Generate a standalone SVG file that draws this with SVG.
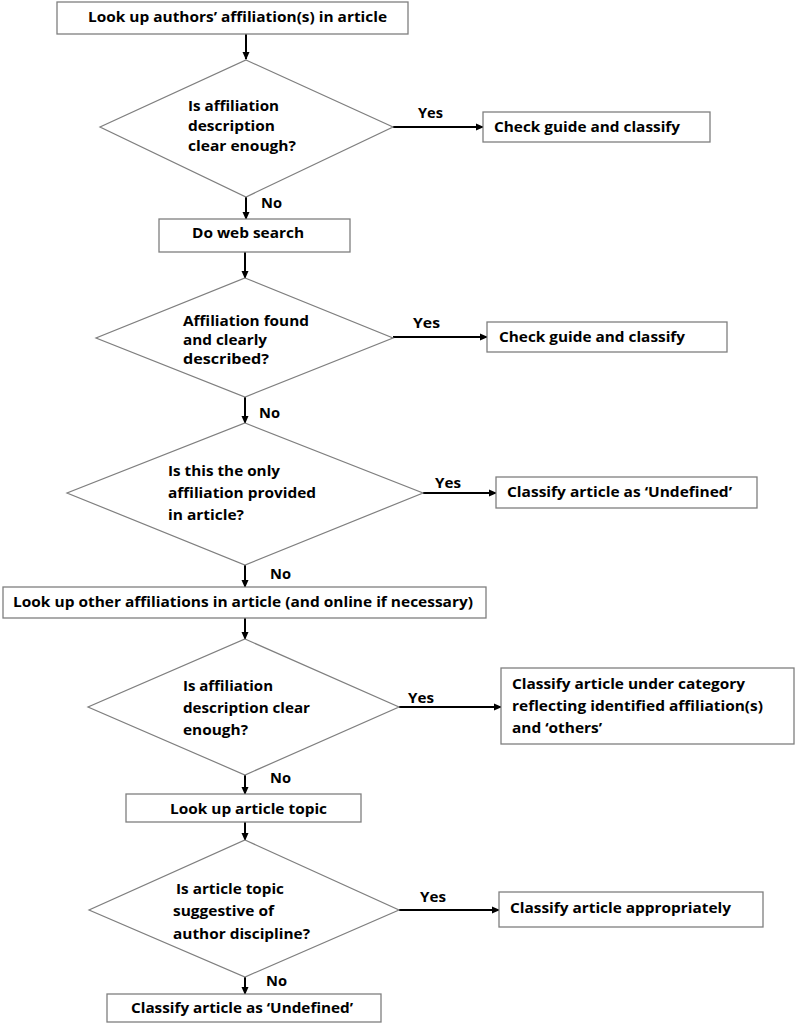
<svg xmlns="http://www.w3.org/2000/svg" width="796" height="1024" viewBox="0 0 796 1024">
<style>
.box{fill:#fff;stroke:#7f7f7f;stroke-width:1.3}
.dia{fill:#fff;stroke:#7f7f7f;stroke-width:1.2}
.t{font-family:"Open Sans","Liberation Sans",sans-serif;font-weight:bold;font-size:15px;fill:#000}
.c{stroke:#000;stroke-width:2;fill:none;marker-end:url(#ah)}
</style>
<defs>
<marker id="ah" markerWidth="8" markerHeight="8" refX="7" refY="4" orient="auto" markerUnits="userSpaceOnUse">
<path d="M0,0.5 L8,4 L0,7.5 Z" fill="#000"/>
</marker>
</defs>
<rect width="796" height="1024" fill="#fff"/>
<g id="connectors">
<line class="c" x1="246" y1="34" x2="246" y2="59"/>
<line class="c" x1="393" y1="127" x2="483" y2="127"/>
<line class="c" x1="246" y1="197" x2="246" y2="219"/>
<line class="c" x1="245" y1="252" x2="245" y2="278"/>
<line class="c" x1="393" y1="337" x2="487" y2="337"/>
<line class="c" x1="245" y1="397" x2="245" y2="423"/>
<line class="c" x1="423" y1="493" x2="496" y2="493"/>
<line class="c" x1="245" y1="565" x2="245" y2="587"/>
<line class="c" x1="245" y1="618" x2="245" y2="639"/>
<line class="c" x1="399" y1="707" x2="501" y2="707"/>
<line class="c" x1="245" y1="775" x2="245" y2="794"/>
<line class="c" x1="245" y1="822" x2="245" y2="840"/>
<line class="c" x1="399" y1="910" x2="499" y2="910"/>
<line class="c" x1="245" y1="977" x2="245" y2="994"/>
<text class="t" x="418" y="118" textLength="25" lengthAdjust="spacingAndGlyphs">Yes</text>
<text class="t" x="261" y="208" textLength="21" lengthAdjust="spacingAndGlyphs">No</text>
<text class="t" x="413" y="328" textLength="27" lengthAdjust="spacingAndGlyphs">Yes</text>
<text class="t" x="259" y="418" textLength="21" lengthAdjust="spacingAndGlyphs">No</text>
<text class="t" x="435" y="488" textLength="26" lengthAdjust="spacingAndGlyphs">Yes</text>
<text class="t" x="270" y="579" textLength="21" lengthAdjust="spacingAndGlyphs">No</text>
<text class="t" x="408" y="703" textLength="26" lengthAdjust="spacingAndGlyphs">Yes</text>
<text class="t" x="270" y="783" textLength="21" lengthAdjust="spacingAndGlyphs">No</text>
<text class="t" x="420" y="902" textLength="26" lengthAdjust="spacingAndGlyphs">Yes</text>
<text class="t" x="266" y="986" textLength="21" lengthAdjust="spacingAndGlyphs">No</text>
</g>
<g id="n1">
<rect class="box" x="57" y="2" width="351" height="32"/>
<text class="t" x="88" y="22" textLength="299" lengthAdjust="spacingAndGlyphs">Look up authors’ affiliation(s) in article</text>
</g>
<g id="d1">
<polygon class="dia" points="246,60 393,127 246,197 100,127"/>
<text class="t" x="188" y="111" textLength="91" lengthAdjust="spacingAndGlyphs">Is affiliation</text>
<text class="t" x="188" y="131" textLength="87" lengthAdjust="spacingAndGlyphs">description</text>
<text class="t" x="188" y="151" textLength="108" lengthAdjust="spacingAndGlyphs">clear enough?</text>
</g>
<g id="n2">
<rect class="box" x="483" y="112" width="227" height="30"/>
<text class="t" x="494" y="132" textLength="186" lengthAdjust="spacingAndGlyphs">Check guide and classify</text>
</g>
<g id="n3">
<rect class="box" x="159" y="219" width="191" height="33"/>
<text class="t" x="192" y="238" textLength="112" lengthAdjust="spacingAndGlyphs">Do web search</text>
</g>
<g id="d2">
<polygon class="dia" points="245,278 393,338 245,397 96,338"/>
<text class="t" x="183" y="326" textLength="126" lengthAdjust="spacingAndGlyphs">Affiliation found</text>
<text class="t" x="183" y="345" textLength="84" lengthAdjust="spacingAndGlyphs">and clearly</text>
<text class="t" x="183" y="364" textLength="86" lengthAdjust="spacingAndGlyphs">described?</text>
</g>
<g id="n4">
<rect class="box" x="487" y="322" width="240" height="30"/>
<text class="t" x="499" y="342" textLength="186" lengthAdjust="spacingAndGlyphs">Check guide and classify</text>
</g>
<g id="d3">
<polygon class="dia" points="245,423 423,493 245,565 67,493"/>
<text class="t" x="168" y="476" textLength="112" lengthAdjust="spacingAndGlyphs">Is this the only</text>
<text class="t" x="168" y="498" textLength="148" lengthAdjust="spacingAndGlyphs">affiliation provided</text>
<text class="t" x="168" y="520" textLength="76" lengthAdjust="spacingAndGlyphs">in article?</text>
</g>
<g id="n5">
<rect class="box" x="496" y="477" width="261" height="31"/>
<text class="t" x="507" y="497" textLength="225" lengthAdjust="spacingAndGlyphs">Classify article as ‘Undefined’</text>
</g>
<g id="n6">
<rect class="box" x="3" y="587" width="483" height="31"/>
<text class="t" x="13" y="607" textLength="460" lengthAdjust="spacingAndGlyphs">Look up other affiliations in article (and online if necessary)</text>
</g>
<g id="d4">
<polygon class="dia" points="245,639 399,707 245,775 88,707"/>
<text class="t" x="183" y="691" textLength="90" lengthAdjust="spacingAndGlyphs">Is affiliation</text>
<text class="t" x="183" y="713" textLength="127" lengthAdjust="spacingAndGlyphs">description clear</text>
<text class="t" x="183" y="735" textLength="65" lengthAdjust="spacingAndGlyphs">enough?</text>
</g>
<g id="n7">
<rect class="box" x="501" y="668" width="293" height="76"/>
<text class="t" x="512" y="689" textLength="233" lengthAdjust="spacingAndGlyphs">Classify article under category</text>
<text class="t" x="512" y="711" textLength="251" lengthAdjust="spacingAndGlyphs">reflecting identified affiliation(s)</text>
<text class="t" x="512" y="733" textLength="90" lengthAdjust="spacingAndGlyphs">and ‘others’</text>
</g>
<g id="n8">
<rect class="box" x="126" y="794" width="235" height="28"/>
<text class="t" x="170" y="814" textLength="157" lengthAdjust="spacingAndGlyphs">Look up article topic</text>
</g>
<g id="d5">
<polygon class="dia" points="245,840 399,910 245,977 89,910"/>
<text class="t" x="176" y="894" textLength="108" lengthAdjust="spacingAndGlyphs">Is article topic</text>
<text class="t" x="173" y="916" textLength="101" lengthAdjust="spacingAndGlyphs">suggestive of</text>
<text class="t" x="173" y="939" textLength="137" lengthAdjust="spacingAndGlyphs">author discipline?</text>
</g>
<g id="n9">
<rect class="box" x="499" y="892" width="264" height="35"/>
<text class="t" x="510" y="913" textLength="221" lengthAdjust="spacingAndGlyphs">Classify article appropriately</text>
</g>
<g id="n10">
<rect class="box" x="107" y="994" width="274" height="28"/>
<text class="t" x="131" y="1013" textLength="222" lengthAdjust="spacingAndGlyphs">Classify article as ‘Undefined’</text>
</g>
</svg>
